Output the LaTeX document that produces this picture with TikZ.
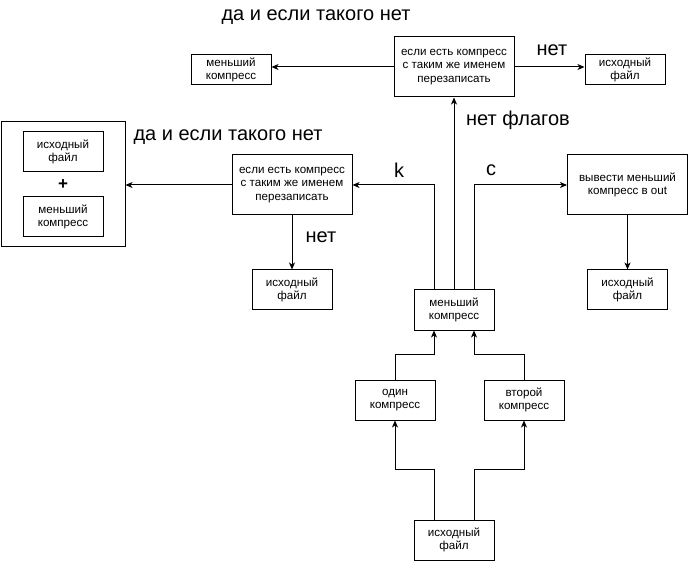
\documentclass[tikz,border=0pt]{standalone}
\usepackage{fontspec}
\setmainfont{Liberation Sans}
\usetikzlibrary{arrows.meta}
\begin{document}
\begin{tikzpicture}[x=1pt,y=-1pt,line width=1pt,
  box/.style={draw,fill=white,align=center,inner sep=0pt,font=\fontsize{11.6}{13.5}\selectfont},
  bw/.style={minimum width=80pt,minimum height=40pt},
  sw/.style={minimum width=80pt,minimum height=30pt},
  qw/.style={minimum width=120pt,minimum height=60pt},
  lbl/.style={font=\fontsize{20}{23}\selectfont,inner sep=0pt},
  arr/.style={-{Stealth[length=7pt,width=6pt,inset=2pt]}}]
\useasboundingbox (0,0) rectangle (688,561);
% nodes
\node[box,qw] (tq) at (454,67) {если есть компресс\\с таким же именем\\перезаписать};
\node[box,sw] (tl) at (231,70) {меньший\\компресс};
\node[box,sw] (tr) at (625,70) {исходный\\файл};
\node[box,qw] (mq) at (292,185) {если есть компресс\\с таким же именем\\перезаписать};
\node[draw,minimum width=124pt,minimum height=125pt,inner sep=0pt] (big) at (63,184.5) {};
\node[box,bw] (in1) at (63,152) {исходный\\файл};
\node[font=\fontsize{17}{19}\selectfont\bfseries,inner sep=0pt] (plus) at (63,185) {+};
\node[box,bw] (in2) at (63,217) {меньший\\компресс};
\node[box,bw] (mf) at (292,290) {исходный\\файл};
\node[box,qw] (out) at (627.5,185) {вывести меньший\\компресс в out};
\node[box,bw] (rf) at (627.5,290) {исходный\\файл};
\node[box,bw] (mk) at (454,310) {меньший\\компресс};
\node[box,bw] (one) at (395,400) {один\\компресс};
\node[box,bw] (two) at (524,400) {второй\\компресс};
\node[box,bw] (src) at (454,540) {исходный\\файл};
% labels
\node[lbl] (l1) at (316,17) {да и если такого нет};
\node[lbl] (l2) at (552,50) {нет};
\node[lbl] (l3) at (518,120) {нет флагов};
\node[lbl] (l4) at (228,137) {да и если такого нет};
\node[lbl] (l5) at (399,170) {k};
\node[lbl] (l6) at (491,170) {c};
\node[lbl] (l7) at (321,237) {нет};
% connectors
\draw[arr] (tq.west) -- (tq.west -| tl.east);
\draw[arr] (tq.east) -- (tq.east -| tr.west);
\draw[arr] (mk.north) -- (tq.south);
\draw[arr] ([xshift=-20pt]mk.north) |- (mq.east);
\draw[arr] ([xshift=20pt]mk.north) |- (out.west);
\draw[arr] (mq.west) -- (mq.west -| big.east);
\draw[arr] (mq.south) -- (mf.north);
\draw[arr] (out.south) -- (rf.north);
\draw[arr] (one.north) -- ++(0,-25) -| ([xshift=-20pt]mk.south);
\draw[arr] (two.north) -- ++(0,-25) -| ([xshift=20pt]mk.south);
\draw[arr] ([xshift=-20pt]src.north) -- ++(0,-50) -| (one.south);
\draw[arr] ([xshift=20pt]src.north) -- ++(0,-50) -| (two.south);
\end{tikzpicture}
\end{document}
